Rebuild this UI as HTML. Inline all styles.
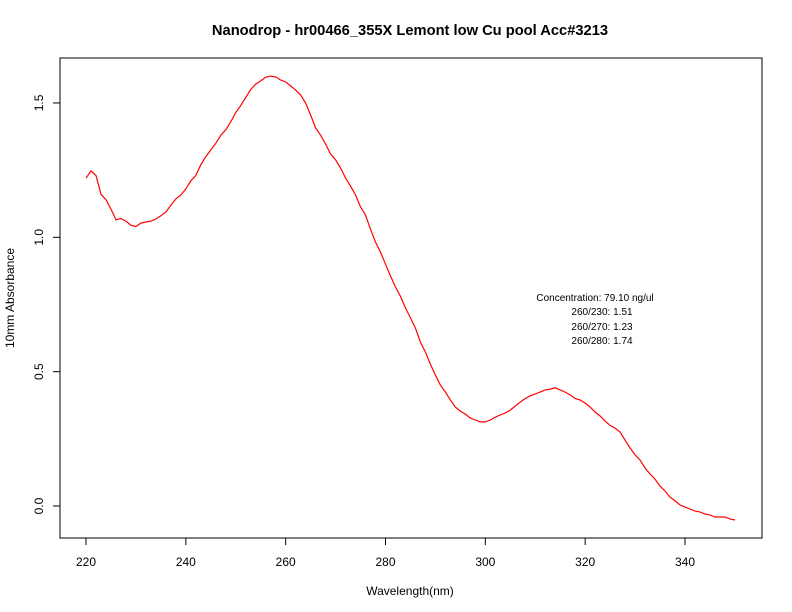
<!DOCTYPE html>
<html><head><meta charset="utf-8"><style>
body{margin:0;background:#fff}
svg{display:block;font-family:"Liberation Sans",sans-serif}
</style></head><body>
<svg id="chart" width="792" height="612">
<rect width="792" height="612" fill="#fff"/>
<text x="410" y="35" text-anchor="middle" font-size="14.7" font-weight="bold">Nanodrop - hr00466_355X Lemont low Cu pool Acc#3213</text>
<rect x="60" y="58" width="702" height="480" fill="none" stroke="#000"/>
<g id="xaxis"></g>
<g id="yaxis"></g>
<text x="410" y="595" text-anchor="middle" font-size="12">Wavelength(nm)</text>
<text transform="translate(14,298) rotate(-90)" text-anchor="middle" font-size="12">10mm Absorbance</text>
<g font-size="10" text-anchor="middle">
<text x="595" y="301">Concentration: 79.10 ng/ul</text>
<text x="602" y="315">260/230: 1.51</text>
<text x="602" y="330">260/270: 1.23</text>
<text x="602" y="344">260/280: 1.74</text>
</g>
<path id="curve" fill="none" stroke="#ff0000" stroke-width="1.2"/>
</svg>
<script>
const wavelengths=[];for(let w=220;w<=350;w++)wavelengths.push(w);
const absorbance=[1.22,1.247,1.23,1.16,1.14,1.105,1.065,1.07,1.06,1.045,1.04,1.053,1.057,1.06,1.068,1.08,1.094,1.12,1.143,1.157,1.18,1.21,1.23,1.27,1.30,1.325,1.35,1.38,1.40,1.43,1.465,1.49,1.52,1.55,1.57,1.582,1.596,1.60,1.597,1.585,1.578,1.563,1.548,1.53,1.50,1.455,1.407,1.38,1.347,1.31,1.288,1.258,1.22,1.19,1.157,1.113,1.083,1.03,0.982,0.945,0.90,0.856,0.815,0.78,0.737,0.70,0.662,0.61,0.573,0.528,0.487,0.45,0.424,0.394,0.368,0.353,0.342,0.327,0.32,0.313,0.313,0.32,0.331,0.339,0.346,0.357,0.372,0.387,0.40,0.41,0.417,0.424,0.432,0.435,0.44,0.432,0.424,0.413,0.40,0.394,0.383,0.368,0.35,0.335,0.316,0.30,0.29,0.275,0.245,0.216,0.19,0.171,0.141,0.119,0.10,0.074,0.056,0.033,0.019,0.004,-0.004,-0.011,-0.019,-0.022,-0.03,-0.033,-0.041,-0.041,-0.041,-0.048,-0.052];
const xTicks=[220,240,260,280,300,320,340];
const yTicks=[0.0,0.5,1.0,1.5];
const yTickLabels=["0.0","0.5","1.0","1.5"];
function sx(w){return 86+(w-220)*599/120;}
function sy(v){return 506-v*268.7;}
const NS="http://www.w3.org/2000/svg";
const xg=document.getElementById('xaxis'),yg=document.getElementById('yaxis');
xTicks.forEach(t=>{
 const l=document.createElementNS(NS,'line');
 l.setAttribute('x1',sx(t));l.setAttribute('x2',sx(t));l.setAttribute('y1',538);l.setAttribute('y2',545);l.setAttribute('stroke','#000');
 
 
 xg.appendChild(l);
 const tx=document.createElementNS(NS,'text');
 tx.setAttribute('x',sx(t));tx.setAttribute('y',566);tx.setAttribute('text-anchor','middle');tx.setAttribute('font-size','12');tx.textContent=t;
 
 
 xg.appendChild(tx);
});
yTicks.forEach((t,i)=>{
 const l=document.createElementNS(NS,'line');
 l.setAttribute('x1',53);l.setAttribute('x2',60);l.setAttribute('y1',sy(t));l.setAttribute('y2',sy(t));l.setAttribute('stroke','#000');
 
 
 yg.appendChild(l);
 const tx=document.createElementNS(NS,'text');
 tx.setAttribute('transform','translate(43,'+sy(t)+') rotate(-90)');tx.setAttribute('text-anchor','middle');tx.setAttribute('font-size','12');tx.textContent=yTickLabels[i];
 
 
 yg.appendChild(tx);
});
document.getElementById('curve').setAttribute('d',wavelengths.map((w,i)=>(i?'L':'M')+sx(w).toFixed(1)+','+sy(absorbance[i]).toFixed(1)).join(''));
</script>
</body></html>
